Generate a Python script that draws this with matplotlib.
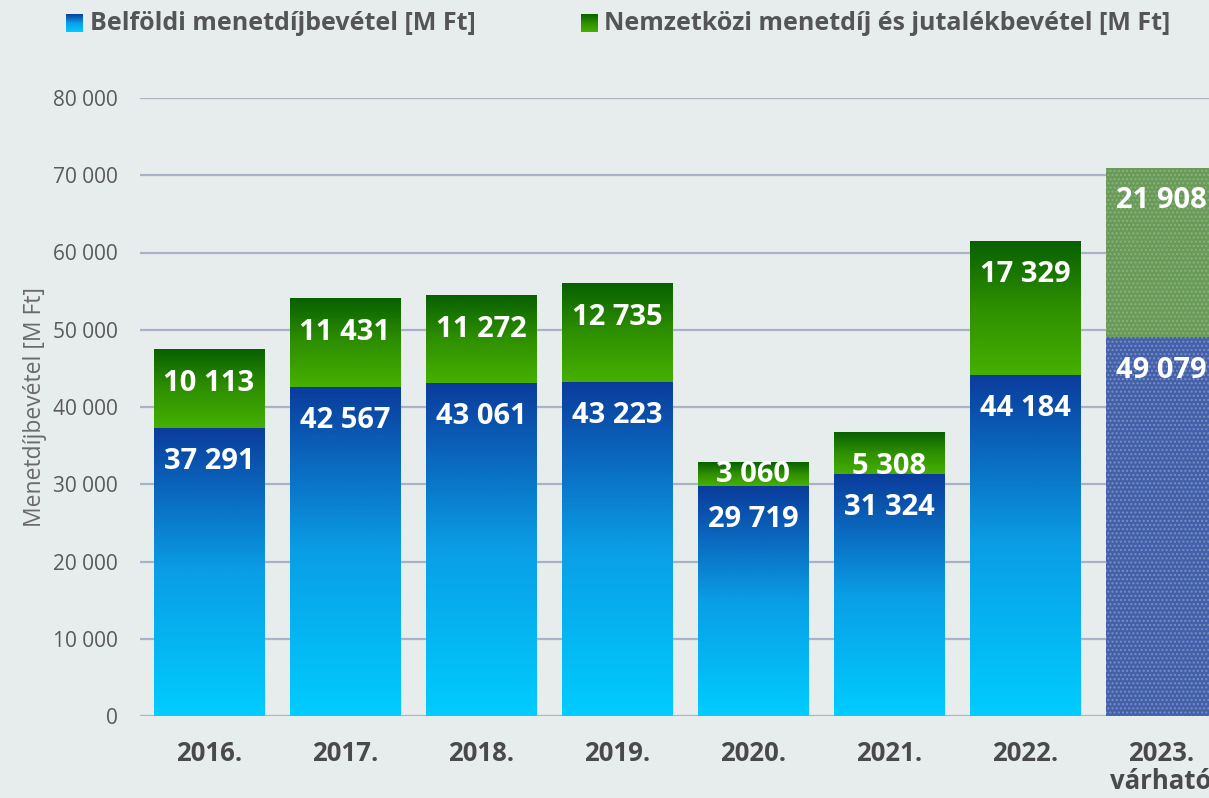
import numpy as np
import matplotlib.pyplot as plt
from matplotlib import font_manager
from matplotlib.colors import LinearSegmentedColormap

# data
years = ['2016.', '2017.', '2018.', '2019.', '2020.', '2021.', '2022.', '2023.\nvárható']
domestic = [37291, 42567, 43061, 43223, 29719, 31324, 44184, 49079]
international = [10113, 11431, 11272, 12735, 3060, 5308, 17329, 21908]
yticks = [0, 10000, 20000, 30000, 40000, 50000, 60000, 70000, 80000]
legend_labels = ['Belföldi menetdíjbevétel [M Ft]',
                 'Nemzetközi menetdíj és jutalékbevétel [M Ft]']
ylabel = 'Menetdíjbevétel [M Ft]'

names = {f.name for f in font_manager.fontManager.ttflist}
font = 'Open Sans' if 'Open Sans' in names else 'DejaVu Sans'
plt.rcParams['font.family'] = [font, 'DejaVu Sans']

bg = '#e7ecec'
blue_cmap = LinearSegmentedColormap.from_list('b', ['#00ccff', '#0a9ee6', '#0a3c9c'])
green_cmap = LinearSegmentedColormap.from_list('g', ['#46b000', '#2e9000', '#086000'])

fig = plt.figure(figsize=(12.09, 7.98), dpi=100, facecolor=bg)
ax = fig.add_axes([140 / 1209, 82 / 798, 1069 / 1209, 618 / 798])
ax.set_facecolor(bg)

x = np.arange(len(years))
w = 110 / 136
grad = np.linspace(0, 1, 256).reshape(-1, 1)

def fmt(v):
    return f'{v:,}'.replace(',', ' ')

for i in range(len(years)):
    d, n = domestic[i], international[i]
    if i == len(years) - 1:
        # forecast year: dotted pattern
        ax.bar(x[i], d, w, color='#4360a8', hatch='....', edgecolor='#7890c8', lw=0, zorder=3)
        ax.bar(x[i], n, w, bottom=d, color='#689a58', hatch='....', edgecolor='#8cb080', lw=0, zorder=3)
    else:
        ax.imshow(grad, cmap=blue_cmap, origin='lower', aspect='auto',
                  extent=[x[i] - w / 2, x[i] + w / 2, 0, d], zorder=3)
        ax.imshow(grad, cmap=green_cmap, origin='lower', aspect='auto',
                  extent=[x[i] - w / 2, x[i] + w / 2, d, d + n], zorder=3)
    # labels
    ax.annotate(fmt(d), (x[i], d), xytext=(0, -24), textcoords='offset points',
                ha='center', va='center', color='white', fontsize=21,
                fontweight='bold', zorder=5)
    if n < 4000:
        ax.annotate(fmt(n), (x[i], d + n / 2), ha='center', va='center',
                    color='white', fontsize=21, fontweight='bold', zorder=5)
    else:
        ax.annotate(fmt(n), (x[i], d + n), xytext=(0, -24), textcoords='offset points',
                    ha='center', va='center', color='white', fontsize=21,
                    fontweight='bold', zorder=5)

ax.set_xlim(-0.507, 7.353)
ax.set_ylim(0, 80000)
ax.set_yticks(yticks)
ax.set_yticklabels([fmt(v) for v in yticks], fontsize=15, color='#5a5a5a')
ax.set_xticks(x)
ax.set_xticklabels(years, fontsize=18.5, fontweight='bold', color='#4a4a4a', linespacing=1.05)
ax.tick_params(length=0, axis='y', pad=16)
ax.tick_params(length=0, axis='x', pad=17)
ax.yaxis.grid(True, color='#aab3c6', lw=1.6, zorder=0)
ax.set_axisbelow(True)
for s in ax.spines.values():
    s.set_visible(False)
ax.set_ylabel(ylabel, fontsize=16.5, color='#6a6a6a', labelpad=4)

# legend with gradient squares
for lab, cm, sx, tx in [(legend_labels[0], blue_cmap, 66, 90),
                        (legend_labels[1], green_cmap, 581, 604)]:
    lax = fig.add_axes([sx / 1209, 1 - 32 / 798, 17 / 1209, 18 / 798])
    lax.imshow(grad, cmap=cm, origin='lower', aspect='auto')
    lax.axis('off')
    fig.text(tx / 1209, 1 - 23 / 798, lab, fontsize=18, fontweight='bold',
             color='#555555', va='center', ha='left')

plt.savefig('out.png', dpi=100, facecolor=bg)
